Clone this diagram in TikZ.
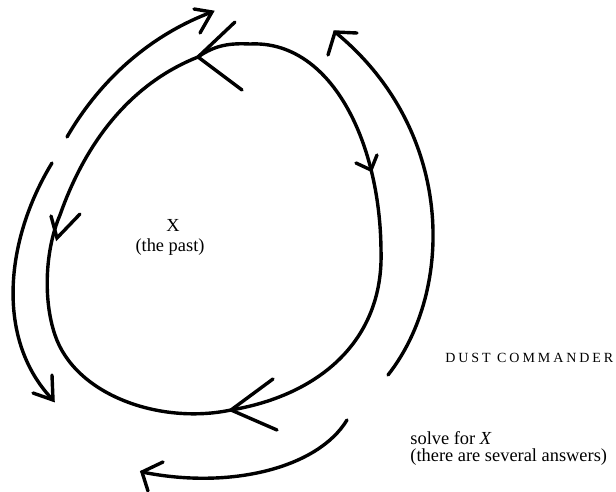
\documentclass[tikz,border=0pt]{standalone}
\usepackage{fontspec}
\setmainfont{Liberation Serif}
\newfontfamily\spacedcaps[LetterSpace=21]{Liberation Serif}
\begin{document}
\begin{tikzpicture}[x=0.5pt,y=-0.5pt,
  pen/.style={line width=1.7pt,line cap=round,line join=round,draw=black},
  head/.style={line width=1.7pt,line cap=round,line join=miter,draw=black},
  lbl/.style={inner sep=0pt,font=\fontsize{9.2pt}{11pt}\selectfont}]
\useasboundingbox[fill=white] (0,0) rectangle (616,492);

% ---- texts ----
\node[lbl] (x) at (173,225) {X};
\node[lbl] (past) at (170,247) {(the past)};
\node[inner sep=0pt,anchor=west,font=\spacedcaps\fontsize{7pt}{8pt}\selectfont] (title) at (445,358) {DUST COMMANDER};
\node[lbl,anchor=west] (solve) at (410,438) {solve for \textit{X}};
\node[lbl,anchor=west] (answers) at (410,457) {(there are several answers)};

% ---- inner loop ----
\coordinate (tTop) at (198,57);
\coordinate (tRight) at (371,170);
\coordinate (tLeft) at (57,238);
\coordinate (tBot) at (231,410);
\draw[pen] (tTop) .. controls (215,45) and (230,43) .. (250,44)
  .. controls (330,40) and (380,140) .. (381,250)
  .. controls (384,340) and (320,395) .. (tBot)
  .. controls (160,425) and (75,395) .. (55,335)
  .. controls (43,300) and (45,250) .. (60,215)
  .. controls (90,130) and (140,80) .. (tTop);
% arrowheads on the loop
\draw[head] (235,22) -- (tTop) -- (242,90);
\draw[head] (356,163) -- (tRight) -- (377,155);
\draw[head] (51,216) -- (tLeft) -- (80,214);
\draw[head] (273,379) -- (tBot) -- (277,430);

% ---- outer top-left arrow ----
\coordinate (a1s) at (67,137);
\coordinate (a1e) at (212,12);
\draw[pen] (a1s) .. controls (100,80) and (150,35) .. (a1e);
\draw[head] (194,9) -- (a1e) -- (200,33);

% ---- outer left arrow ----
\coordinate (a2s) at (52,163);
\coordinate (a2e) at (53,400);
\draw[pen] (a2s) .. controls (5,240) and (-5,340) .. (a2e);
\draw[head] (33,393) -- (a2e) -- (52,375);

% ---- outer right arrow ----
\coordinate (a3s) at (388,375);
\coordinate (a3e) at (335,32);
\draw[pen] (a3s) .. controls (455,290) and (455,130) .. (a3e);
\draw[head] (357,33) -- (a3e) -- (328,55);

% ---- bottom arrow ----
\coordinate (a4s) at (347,420);
\coordinate (a4e) at (142,472);
\draw[pen] (a4s) .. controls (318,468) and (230,490) .. (a4e);
\draw[head] (163,462) -- (a4e) -- (148,491);
\end{tikzpicture}
\end{document}
